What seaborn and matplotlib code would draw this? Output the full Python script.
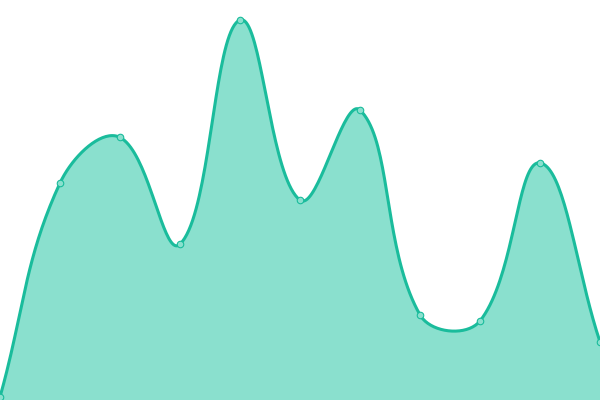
import numpy as np
import pandas as pd
import matplotlib
matplotlib.use("Agg")
import matplotlib.pyplot as plt
import seaborn as sns

# data
x_pos = list(range(11))
values = [0.8, 57.1, 69.1, 41.0, 100.0, 52.6, 76.3, 22.4, 20.8, 62.4, 15.3]

line_color = "#1abc9c"
fill_color = "#8ae0ce"

# pixel scale used for the spline (60 px per step, 3.8 px per unit, 600x400 area)
PX_X, PX_Y = 60.0, 3.8
W, H = 600.0, 400.0


# tension spline like Chart.js (tension 0.4, control points capped to the area)
def smooth_curve(xs, ys, tension=0.4, steps=40):
    pts = np.column_stack([np.asarray(xs, float) * PX_X, H - np.asarray(ys, float) * PX_Y])
    n = len(pts)
    prev_c = pts.copy()
    next_c = pts.copy()
    for i in range(n):
        prev = pts[max(i - 1, 0)]
        cur = pts[i]
        nxt = pts[min(i + 1, n - 1)]
        d01 = np.linalg.norm(cur - prev)
        d12 = np.linalg.norm(nxt - cur)
        tot = d01 + d12
        s01 = d01 / tot if tot else 0
        s12 = d12 / tot if tot else 0
        prev_c[i] = cur - tension * s01 * (nxt - prev)
        next_c[i] = cur + tension * s12 * (nxt - prev)
    for c in (prev_c, next_c):
        c[:, 0] = np.clip(c[:, 0], 0, W)
        c[:, 1] = np.clip(c[:, 1], 0, H)
    t = np.linspace(0, 1, steps)[:, None]
    out = []
    for i in range(n - 1):
        p1, c1, c2, p2 = pts[i], next_c[i], prev_c[i + 1], pts[i + 1]
        out.append((1 - t) ** 3 * p1 + 3 * (1 - t) ** 2 * t * c1
                   + 3 * (1 - t) * t ** 2 * c2 + t ** 3 * p2)
    out = np.vstack(out)
    return out[:, 0] / PX_X, (H - out[:, 1]) / PX_Y


sx, sy = smooth_curve(x_pos, values)
curve = pd.DataFrame({"x": sx, "y": sy})
points = pd.DataFrame({"x": x_pos, "y": values})

sns.set_style("white")
fig = plt.figure(figsize=(6, 4), dpi=100)
ax = fig.add_axes([0, 0, 1, 1])

ax.fill_between(curve["x"], curve["y"], 0, color=fill_color, linewidth=0)
sns.lineplot(data=curve, x="x", y="y", sort=False, color=line_color,
             linewidth=2.2, ax=ax)
sns.scatterplot(data=points, x="x", y="y", color=fill_color,
                edgecolor=line_color, linewidth=0.8, s=22, ax=ax, zorder=3)

ax.set_xlim(0, 10)
ax.set_ylim(0, H / PX_Y)
ax.axis("off")

fig.savefig("out.png", dpi=100)
